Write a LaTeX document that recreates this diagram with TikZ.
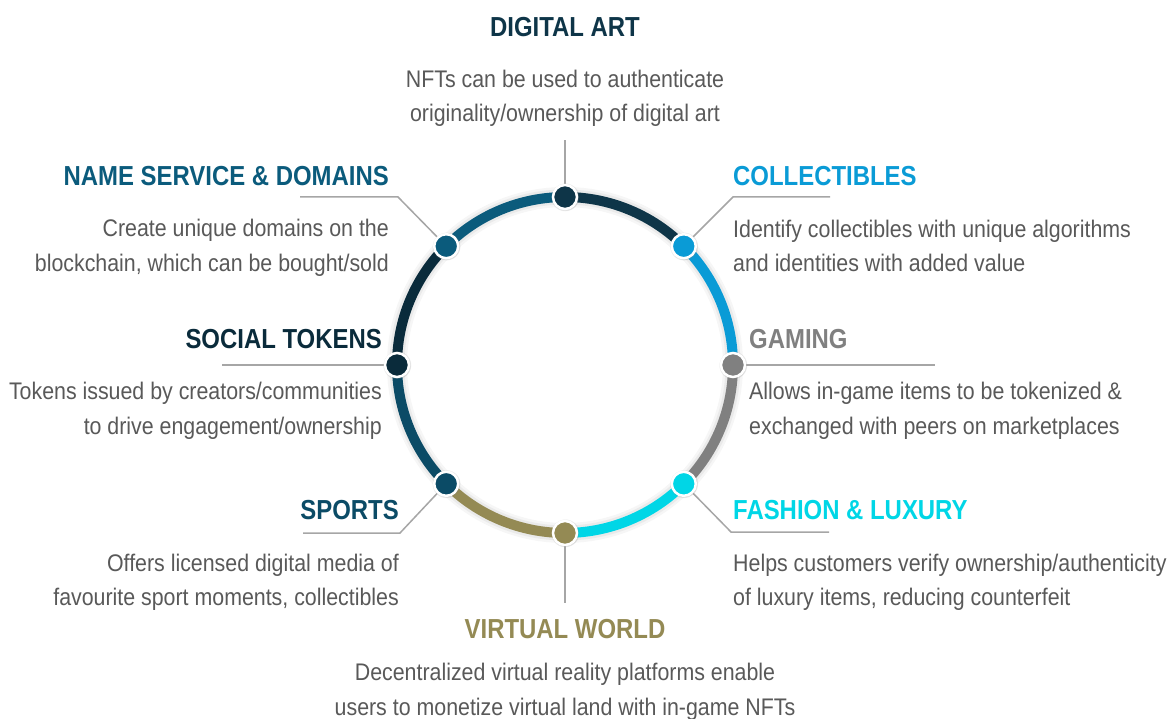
\documentclass[tikz,border=0pt]{standalone}
\usepackage{fontspec}
\setmainfont{Liberation Sans}[FakeStretch=0.87]
\newfontfamily\descfont{Liberation Sans}[FakeStretch=0.89]
\usetikzlibrary{shadows,calc}
\definecolor{cA}{HTML}{0E3548}
\definecolor{cB}{HTML}{0A9BD6}
\definecolor{cC}{HTML}{808080}
\definecolor{cD}{HTML}{00D6E6}
\definecolor{cE}{HTML}{948A54}
\definecolor{cF}{HTML}{0B4B66}
\definecolor{cG}{HTML}{0A2B3B}
\definecolor{cH}{HTML}{0B5B7C}
\definecolor{txtgray}{HTML}{595959}
\definecolor{leadgray}{HTML}{A6A6A6}
\pgfdeclarelayer{bg}
\pgfsetlayers{bg,main}
\tikzset{
  ttl/.style={font=\bfseries\fontsize{27.5}{30}\selectfont, inner sep=0pt},
  dsc/.style={font=\descfont\fontsize{24}{28}\selectfont, text=txtgray, inner sep=0pt},
  dot/.style={circle, minimum size=24pt, inner sep=0pt, draw=white, line width=2.5pt,
    circular drop shadow={shadow xshift=0pt, shadow yshift=0pt, shadow scale=1.2, opacity=0.35}},
  leader/.style={draw=leadgray, line width=1.5pt},
  ringseg/.style={line width=10pt}
}
\begin{document}
\begin{tikzpicture}[x=1pt,y=-1pt]
\begin{pgfonlayer}{bg}
\fill[white] (0,0) rectangle (1172,719);
\end{pgfonlayer}
\useasboundingbox (0,0) rectangle (1172,719);
\coordinate (c) at (565,365);
% ring shadow
\draw[black!60, opacity=0.06, line width=20pt] (c) circle[radius=168];
\draw[black!60, opacity=0.08, line width=15pt] (c) circle[radius=168];
% ring segments
\foreach \a/\col in {270/cA,315/cB,0/cC,45/cD,90/cE,135/cF,180/cG,225/cH}{
  \draw[ringseg, \col] (c) ++(\a:168) arc[start angle=\a, end angle=\a+45, radius=168];
}
% dots
\node[dot, fill=cA] (dT)  at ($(c)+(270:168)$) {};
\node[dot, fill=cB] (dUR) at ($(c)+(315:168)$) {};
\node[dot, fill=cC] (dR)  at ($(c)+(0:168)$) {};
\node[dot, fill=cD] (dLR) at ($(c)+(45:168)$) {};
\node[dot, fill=cE] (dB)  at ($(c)+(90:168)$) {};
\node[dot, fill=cF] (dLL) at ($(c)+(135:168)$) {};
\node[dot, fill=cG] (dL)  at ($(c)+(180:168)$) {};
\node[dot, fill=cH] (dUL) at ($(c)+(225:168)$) {};
% leader end points
\coordinate (lT)   at (565,140);
\coordinate (lUL1) at (398,197);
\coordinate (lUL2) at (300,197);
\coordinate (lUR1) at (733,197);
\coordinate (lUR2) at (830,197);
\coordinate (lL)   at (222,365);
\coordinate (lR)   at (935,365);
\coordinate (lLL1) at (400,533);
\coordinate (lLL2) at (303,533);
\coordinate (lLR1) at (731,532);
\coordinate (lLR2) at (829,532);
\coordinate (lB)   at (565,603);
\begin{pgfonlayer}{bg}
\draw[leader] (dT.center) -- (lT);
\draw[leader] (dUL.center) -- (lUL1) -- (lUL2);
\draw[leader] (dUR.center) -- (lUR1) -- (lUR2);
\draw[leader] (dL.center) -- (lL);
\draw[leader] (dR.center) -- (lR);
\draw[leader] (dLL.center) -- (lLL1) -- (lLL2);
\draw[leader] (dLR.center) -- (lLR1) -- (lLR2);
\draw[leader] (dB.center) -- (lB);
\end{pgfonlayer}
% DIGITAL ART
\node[ttl, text=cA, anchor=base] (tDA) at (565,37) {DIGITAL ART};
\node[dsc, anchor=base] (dDA1) at (565,88) {NFTs can be used to authenticate};
\node[dsc, anchor=base] (dDA2) at (565,122) {originality/ownership of digital art};
% NAME SERVICE
\node[ttl, text=cH, anchor=base east] (tNS) at (389,186) {NAME SERVICE \& DOMAINS};
\node[dsc, anchor=base east] (dNS1) at (389,237) {Create unique domains on the};
\node[dsc, anchor=base east] (dNS2) at (389,272) {blockchain, which can be bought/sold};
% COLLECTIBLES
\node[ttl, text=cB, anchor=base west] (tCO) at (733,186) {COLLECTIBLES};
\node[dsc, anchor=base west] (dCO1) at (733,238) {Identify collectibles with unique algorithms};
\node[dsc, anchor=base west] (dCO2) at (733,272) {and identities with added value};
% SOCIAL TOKENS
\node[ttl, text=cG, anchor=base east] (tST) at (382,348) {SOCIAL TOKENS};
\node[dsc, anchor=base east] (dST1) at (382,399) {Tokens issued by creators/communities};
\node[dsc, anchor=base east] (dST2) at (382,434) {to drive engagement/ownership};
% GAMING
\node[ttl, text=cC, anchor=base west] (tGA) at (749,348) {GAMING};
\node[dsc, anchor=base west] (dGA1) at (749,399) {Allows in-game items to be tokenized \&};
\node[dsc, anchor=base west] (dGA2) at (749,434) {exchanged with peers on marketplaces};
% SPORTS
\node[ttl, text=cF, anchor=base east] (tSP) at (399,519) {SPORTS};
\node[dsc, anchor=base east] (dSP1) at (399,571) {Offers licensed digital media of};
\node[dsc, anchor=base east] (dSP2) at (399,605) {favourite sport moments, collectibles};
% FASHION
\node[ttl, text=cD, anchor=base west] (tFL) at (733,519) {FASHION \& LUXURY};
\node[dsc, anchor=base west] (dFL1) at (733,571) {Helps customers verify ownership/authenticity};
\node[dsc, anchor=base west] (dFL2) at (733,605) {of luxury items, reducing counterfeit};
% VIRTUAL WORLD
\node[ttl, text=cE, anchor=base] (tVW) at (565,638) {VIRTUAL WORLD};
\node[dsc, anchor=base] (dVW1) at (565,680) {Decentralized virtual reality platforms enable};
\node[dsc, anchor=base] (dVW2) at (565,715) {users to monetize virtual land with in-game NFTs};
\end{tikzpicture}
\end{document}
